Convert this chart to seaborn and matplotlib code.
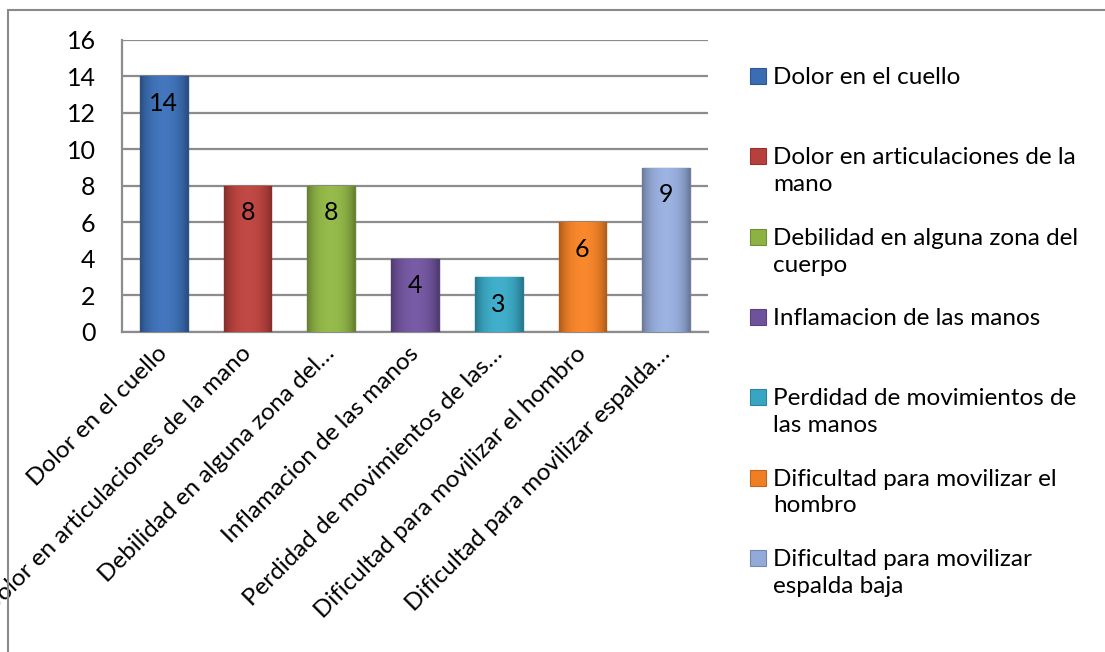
import numpy as np
import matplotlib
matplotlib.use("Agg")
import matplotlib.pyplot as plt
import matplotlib.transforms as mtransforms
import seaborn as sns
from matplotlib.colors import to_rgb
from matplotlib.patches import Rectangle

# Data
categories = [
    "Dolor en el cuello",
    "Dolor en articulaciones de la mano",
    "Debilidad en alguna zona del cuerpo",
    "Inflamacion de las manos",
    "Perdidad de movimientos de las manos",
    "Dificultad para movilizar el hombro",
    "Dificultad para movilizar espalda baja",
]
values = [14, 8, 8, 4, 3, 6, 9]
tick_labels = [
    "Dolor en el cuello",
    "Dolor en articulaciones de la mano",
    "Debilidad en alguna zona del\u2026",
    "Inflamacion de las manos",
    "Perdidad de movimientos de las\u2026",
    "Dificultad para movilizar el hombro",
    "Dificultad para movilizar espalda\u2026",
]
legend_labels = [
    "Dolor en el cuello",
    "Dolor en articulaciones de la\nmano",
    "Debilidad en alguna zona del\ncuerpo",
    "Inflamacion de las manos",
    "Perdidad de movimientos de\nlas manos",
    "Dificultad para movilizar el\nhombro",
    "Dificultad para movilizar\nespalda baja",
]
colors = ["#3A6DB3", "#B8403C", "#8DB243", "#6F529C", "#38A6C2", "#F07F24", "#93A9D8"]
y_ticks = [0, 2, 4, 6, 8, 10, 12, 14, 16]

sns.set_theme(style="white")
plt.rcParams["font.family"] = ["Lato", "DejaVu Sans"]

W, H = 1105, 652
fig = plt.figure(figsize=(W / 100, H / 100), dpi=100)
ax = fig.add_axes([122 / W, 1 - 332 / H, (708 - 122) / W, (332 - 40) / H])

sns.barplot(x=categories, y=values, hue=categories, palette=colors,
            legend=False, width=0.57, saturation=1, ax=ax, zorder=3)

# Bevel-like shading across each bar
for patch, c in zip(ax.patches, colors):
    x0, y0 = patch.get_x(), patch.get_y()
    w, h = patch.get_width(), patch.get_height()
    base = np.array(to_rgb(c))
    t = np.linspace(-1, 1, 60)
    shade = 1.0 - 0.28 * np.abs(t) ** 3
    grad = np.clip(base[None, :] * shade[:, None] + 0.04 * (1 - np.abs(t))[:, None], 0, 1)
    img = np.tile(grad[None, :, :], (2, 1, 1))
    im = ax.imshow(img, extent=[x0, x0 + w, y0, y0 + h], aspect="auto",
                   zorder=3.5, interpolation="bilinear")
    im.set_clip_path(patch)
    patch.set_edgecolor(tuple(base * 0.75))
    patch.set_linewidth(1.0)

ax.set_xlim(-0.5, len(categories) - 0.5)
ax.set_ylim(0, 16)
ax.set_yticks(y_ticks)
ax.set_yticklabels([str(v) for v in y_ticks])
ax.set_xticks(range(len(categories)))
ax.set_xticklabels(tick_labels, rotation=45, ha="right", va="top",
                   rotation_mode="anchor")
ax.tick_params(axis="y", length=0, pad=19, labelsize=18, labelcolor="black")
ax.tick_params(axis="x", length=0, pad=10, labelsize=17.5, labelcolor="black")
shift = mtransforms.ScaledTranslation(-7 / 100, 3 / 100, fig.dpi_scale_trans)
for lbl in ax.get_xticklabels():
    lbl.set_transform(lbl.get_transform() + shift)

ax.yaxis.grid(True, color="#8c8c8c", linewidth=1.6, zorder=0)
ax.set_axisbelow(True)
for side in ["top", "right"]:
    ax.spines[side].set_visible(False)
for side in ["left", "bottom"]:
    ax.spines[side].set_color("#8c8c8c")
    ax.spines[side].set_linewidth(1.6)
ax.set_xlabel("")
ax.set_ylabel("")

# Value labels inside the top of each bar
for i, v in enumerate(values):
    ax.annotate(str(v), xy=(i, v), xytext=(0, -11), textcoords="offset points",
                ha="center", va="top", fontsize=18, color="black", zorder=5)

# Legend entries on the right
for i, lab in enumerate(legend_labels):
    yc = 76 + i * 80.3
    fig.patches.append(Rectangle((750 / W, 1 - (yc + 8) / H), 16 / W, 16 / H,
                                 transform=fig.transFigure, facecolor=colors[i],
                                 edgecolor=tuple(np.array(to_rgb(colors[i])) * 0.8),
                                 linewidth=0.8))
    fig.text(773 / W, 1 - (yc - 9) / H, lab, ha="left", va="top",
             fontsize=17.5, color="black", linespacing=1.35)

# Chart area border
fig.patches.append(Rectangle((8 / W, -0.1), 1.2, 1 - 10 / H + 0.1,
                             transform=fig.transFigure, fill=False,
                             edgecolor="#8a8a8a", linewidth=1.5))

fig.savefig("out.png", dpi=100, facecolor="white")
